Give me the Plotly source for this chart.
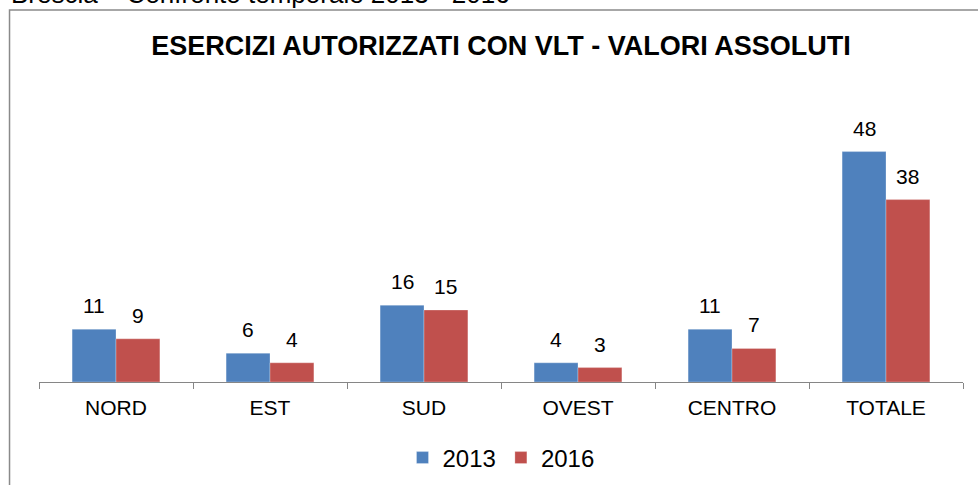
import plotly.graph_objects as go

categories = ["NORD", "EST", "SUD", "OVEST", "CENTRO", "TOTALE"]
values_2013 = [11, 6, 16, 4, 11, 48]
values_2016 = [9, 4, 15, 3, 7, 38]
series_names = ["2013", "2016"]
colors = ["#4F81BD", "#C0504D"]
title_text = "ESERCIZI AUTORIZZATI CON VLT - VALORI ASSOLUTI"
top_text = "Brescia – Confronto temporale 2013 - 2016"

FONT = "Liberation Sans, Arial, sans-serif"
BARGAP = 0.43

fig = go.Figure()
for name, vals, col in zip(series_names, [values_2013, values_2016], colors):
    fig.add_trace(go.Bar(
        x=categories, y=vals, name=name,
        marker=dict(color=col, line=dict(color="rgba(255,255,255,0.35)", width=0.8)),
        hoverinfo="x+y+name",
    ))

annotations = []
half = (1 - BARGAP) / 4
for si, vals in enumerate([values_2013, values_2016]):
    off = -half if si == 0 else half
    for i, v in enumerate(vals):
        annotations.append(dict(
            x=i + off, y=v, xref="x", yref="y", text=str(v), showarrow=False,
            yanchor="bottom", yshift=10, font=dict(family=FONT, size=21, color="#000000"),
        ))

annotations.append(dict(
    x=0.5119, y=1.2875, xref="paper", yref="paper", text=top_text, showarrow=False,
    xanchor="right", yanchor="bottom", font=dict(family=FONT, size=26, color="#000000"),
))

fig.update_layout(
    width=978, height=485,
    margin=dict(l=39, r=15, t=94, b=103, autoexpand=False),
    paper_bgcolor="white", plot_bgcolor="white",
    barmode="group", bargap=BARGAP, bargroupgap=0,
    title=dict(text="<b>" + title_text + "</b>", x=0.5, xref="paper", xanchor="center",
               y=1 - 46 / 485, yref="container", yanchor="middle",
               font=dict(family=FONT, size=27, color="#000000")),
    font=dict(family=FONT, color="#000000"),
    xaxis=dict(showline=True, linecolor="#868686", linewidth=1,
               ticks="outside", tickson="boundaries", ticklen=6, tickcolor="#868686",
               tickfont=dict(family=FONT, size=21, color="#000000"),
               ticklabelstandoff=7, automargin=False,
               showgrid=False, zeroline=False),
    yaxis=dict(visible=False, range=[0, 60], showgrid=False, zeroline=False),
    legend=dict(orientation="h", x=0.5, xanchor="center",
                y=1 - 458 / 485, yref="container", yanchor="middle",
                font=dict(family=FONT, size=24, color="#000000"), itemwidth=30,
                bgcolor="rgba(0,0,0,0)"),
    annotations=annotations,
    shapes=[dict(type="rect", xref="paper", yref="paper",
                 x0=-0.0319, x1=1.1, y0=-0.5, y1=(382 - 10) / 288,
                 line=dict(color="#8a8a8a", width=1.5), fillcolor="rgba(0,0,0,0)", layer="below")],
)

fig.write_html("out.html", config={"displayModeBar": False},
               post_script="document.body.style.margin='0';")
